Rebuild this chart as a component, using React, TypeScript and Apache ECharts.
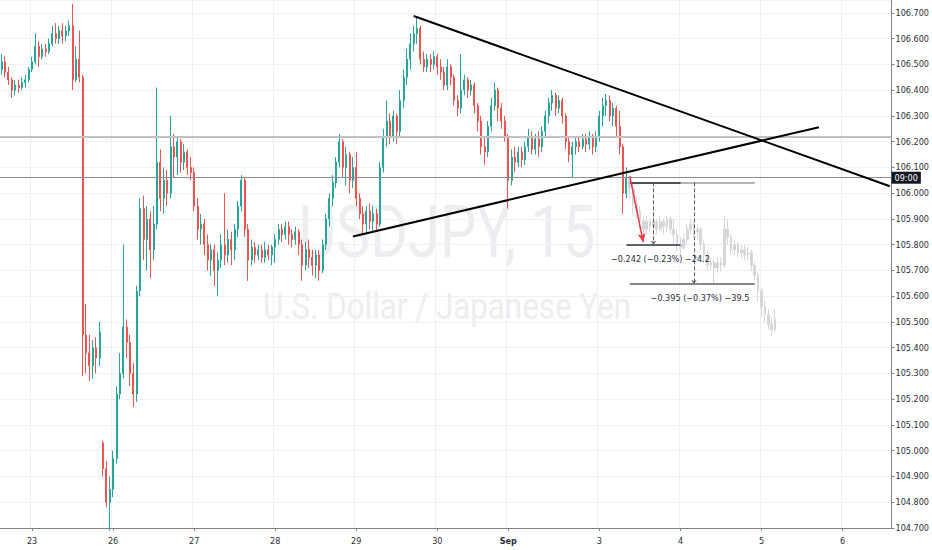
import React, { useEffect, useRef } from "react";
import * as echarts from "echarts";

// ---------- axis / layout data ----------
const SLOT_COUNT = 264; // hourly slots on the category axis
const labelIndex = [9, 33, 57, 81, 105, 129, 150, 177, 201, 225, 249];
const dayLabels = ["23", "26", "27", "28", "29", "30", "Sep", "3", "4", "5", "6"];

// ---------- OHLC data: [open, close, low, high] ----------
const aug22 = [
  [106.48, 106.51, 106.46, 106.54],
  [106.51, 106.47, 106.45, 106.53],
  [106.47, 106.44, 106.42, 106.49],
  [106.44, 106.4, 106.37, 106.45],
  [106.4, 106.42, 106.38, 106.44],
  [106.42, 106.41, 106.39, 106.44],
  [106.41, 106.43, 106.4, 106.45],
  [106.43, 106.44, 106.41, 106.46],
  [106.44, 106.48, 106.43, 106.49],
];
const aug23 = [
  [106.48, 106.51, 106.47, 106.53],
  [106.51, 106.57, 106.5, 106.62],
  [106.57, 106.53, 106.49, 106.59],
  [106.53, 106.56, 106.52, 106.58],
  [106.56, 106.55, 106.53, 106.58],
  [106.55, 106.58, 106.54, 106.6],
  [106.58, 106.62, 106.57, 106.65],
  [106.62, 106.6, 106.58, 106.66],
  [106.6, 106.63, 106.58, 106.65],
  [106.63, 106.61, 106.58, 106.66],
  [106.61, 106.63, 106.59, 106.65],
  [106.63, 106.65, 106.61, 106.67],
  [106.65, 106.44, 106.4, 106.735],
  [106.44, 106.52, 106.43, 106.57],
  [106.52, 106.45, 106.43, 106.63],
  [106.45, 105.45, 105.29, 106.46],
  [105.45, 105.38, 105.3, 105.57],
  [105.38, 105.33, 105.27, 105.45],
  [105.33, 105.4, 105.28, 105.43],
  [105.4, 105.36, 105.3, 105.44],
  [105.36, 105.46, 105.33, 105.5],
  [105.03, 104.93, 104.9, 105.04],
  [104.93, 104.8, 104.78, 104.96],
  [104.8, 104.85, 104.69, 104.9],
];
const aug26 = [
  [104.85, 104.97, 104.82, 105.0],
  [104.97, 105.22, 104.95, 105.25],
  [105.22, 105.3, 105.2, 105.38],
  [105.3, 105.48, 105.28, 105.8],
  [105.48, 105.42, 105.36, 105.51],
  [105.42, 105.3, 105.25, 105.45],
  [105.3, 105.22, 105.17, 105.34],
  [105.22, 105.62, 105.19, 105.64],
  [105.62, 105.94, 105.6, 105.98],
  [105.94, 105.82, 105.74, 105.99],
  [105.82, 105.9, 105.7, 105.95],
  [105.9, 105.78, 105.67, 105.93],
  [105.78, 105.88, 105.74, 105.95],
  [105.88, 106.12, 105.86, 106.41],
  [106.12, 105.98, 105.93, 106.17],
  [105.98, 106.05, 105.92, 106.1],
  [106.05, 106.0, 105.95, 106.09],
  [106.0, 106.18, 105.98, 106.3],
  [106.18, 106.14, 106.06, 106.23],
  [106.14, 106.2, 106.07, 106.22],
  [106.2, 106.12, 106.08, 106.21],
  [106.12, 106.16, 106.09, 106.19],
  [106.16, 106.1, 106.07, 106.17],
  [106.1, 106.08, 106.05, 106.14],
];
const aug27 = [
  [106.08, 105.95, 105.93, 106.1],
  [105.95, 105.86, 105.82, 105.98],
  [105.86, 105.88, 105.8, 105.92],
  [105.88, 105.8, 105.76, 105.9],
  [105.8, 105.74, 105.7, 105.84],
  [105.74, 105.78, 105.68, 105.8],
  [105.78, 105.7, 105.64, 105.8],
  [105.7, 105.74, 105.6, 105.77],
  [105.74, 105.8, 105.71, 105.84],
  [105.8, 105.76, 105.72, 106.0],
  [105.76, 105.82, 105.73, 105.86],
  [105.82, 105.78, 105.72, 105.85],
  [105.78, 105.86, 105.74, 105.88],
  [105.86, 105.95, 105.83, 105.97],
  [105.95, 106.05, 105.93, 106.07],
  [106.05, 105.86, 105.83, 106.06],
  [105.86, 105.74, 105.66, 105.88],
  [105.74, 105.79, 105.72, 105.82],
  [105.79, 105.76, 105.73, 105.81],
  [105.76, 105.78, 105.74, 105.8],
  [105.78, 105.75, 105.73, 105.8],
  [105.75, 105.78, 105.73, 105.81],
  [105.78, 105.76, 105.74, 105.8],
  [105.76, 105.79, 105.72, 105.8],
];
const aug28 = [
  [105.79, 105.82, 105.73, 105.84],
  [105.82, 105.86, 105.8, 105.88],
  [105.86, 105.84, 105.81, 105.88],
  [105.84, 105.87, 105.82, 105.89],
  [105.87, 105.84, 105.8, 105.89],
  [105.84, 105.82, 105.79, 105.86],
  [105.82, 105.85, 105.8, 105.87],
  [105.85, 105.8, 105.76, 105.86],
  [105.8, 105.72, 105.66, 105.82],
  [105.72, 105.78, 105.7, 105.81],
  [105.78, 105.75, 105.71, 105.82],
  [105.75, 105.72, 105.68, 105.78],
  [105.72, 105.76, 105.67, 105.78],
  [105.76, 105.7, 105.66, 105.78],
  [105.7, 105.8, 105.69, 105.82],
  [105.8, 105.9, 105.78, 105.92],
  [105.9, 105.98, 105.87, 106.0],
  [105.98, 106.04, 105.95, 106.07],
  [106.04, 106.12, 106.02, 106.14],
  [106.12, 106.2, 106.1, 106.23],
  [106.2, 106.1, 106.06, 106.21],
  [106.1, 106.15, 106.03, 106.18],
  [106.15, 106.05, 106.0, 106.16],
  [106.05, 106.1, 106.02, 106.14],
];
const aug29 = [
  [106.1, 105.98, 105.95, 106.16],
  [105.98, 105.92, 105.9, 106.0],
  [105.92, 105.88, 105.84, 105.95],
  [105.88, 105.93, 105.84, 105.95],
  [105.93, 105.89, 105.86, 105.96],
  [105.89, 105.92, 105.85, 105.95],
  [105.92, 105.88, 105.85, 105.94],
  [105.88, 106.1, 105.87, 106.12],
  [106.1, 106.22, 106.08, 106.25],
  [106.22, 106.28, 106.18, 106.36],
  [106.28, 106.22, 106.19, 106.31],
  [106.22, 106.3, 106.2, 106.32],
  [106.3, 106.24, 106.19, 106.31],
  [106.24, 106.36, 106.22, 106.4],
  [106.36, 106.45, 106.33, 106.48],
  [106.45, 106.52, 106.42, 106.56],
  [106.52, 106.58, 106.48, 106.62],
  [106.58, 106.62, 106.55, 106.65],
  [106.62, 106.64, 106.58, 106.685],
  [106.64, 106.52, 106.5, 106.65],
  [106.52, 106.49, 106.47, 106.55],
  [106.49, 106.52, 106.47, 106.54],
  [106.52, 106.5, 106.47, 106.54],
  [106.5, 106.53, 106.48, 106.55],
];
const aug30 = [
  [106.53, 106.49, 106.46, 106.54],
  [106.49, 106.47, 106.44, 106.52],
  [106.47, 106.42, 106.4, 106.49],
  [106.42, 106.49, 106.4, 106.52],
  [106.49, 106.45, 106.42, 106.5],
  [106.45, 106.36, 106.34, 106.46],
  [106.36, 106.33, 106.3, 106.38],
  [106.33, 106.4, 106.31, 106.54],
  [106.4, 106.44, 106.38, 106.46],
  [106.44, 106.4, 106.37, 106.45],
  [106.4, 106.42, 106.38, 106.44],
  [106.42, 106.34, 106.31, 106.43],
  [106.34, 106.28, 106.24, 106.35],
  [106.28, 106.18, 106.15, 106.3],
  [106.18, 106.16, 106.11, 106.22],
  [106.16, 106.26, 106.14, 106.28],
  [106.26, 106.34, 106.24, 106.37],
  [106.34, 106.4, 106.32, 106.43],
  [106.4, 106.33, 106.28, 106.41],
  [106.33, 106.28, 106.25, 106.35],
  [106.28, 106.22, 106.2, 106.3],
];
const sep02 = [
  [106.22, 106.05, 105.94, 106.23],
  [106.05, 106.14, 106.03, 106.17],
  [106.14, 106.12, 106.08, 106.18],
  [106.12, 106.16, 106.1, 106.18],
  [106.16, 106.13, 106.1, 106.18],
  [106.13, 106.18, 106.11, 106.2],
  [106.18, 106.22, 106.16, 106.25],
  [106.22, 106.17, 106.15, 106.24],
  [106.17, 106.21, 106.15, 106.23],
  [106.21, 106.18, 106.14, 106.24],
  [106.18, 106.24, 106.16, 106.26],
  [106.24, 106.3, 106.22, 106.32],
  [106.3, 106.35, 106.27, 106.37],
  [106.35, 106.38, 106.32, 106.4],
  [106.38, 106.33, 106.3, 106.39],
  [106.33, 106.36, 106.31, 106.38],
  [106.36, 106.3, 106.27, 106.37],
  [106.3, 106.2, 106.17, 106.31],
  [106.2, 106.15, 106.12, 106.22],
  [106.15, 106.18, 106.06, 106.2],
  [106.18, 106.2, 106.15, 106.22],
  [106.2, 106.18, 106.16, 106.22],
  [106.18, 106.21, 106.17, 106.23],
  [106.21, 106.19, 106.16, 106.23],
  [106.19, 106.22, 106.17, 106.24],
  [106.22, 106.18, 106.15, 106.23],
  [106.18, 106.22, 106.16, 106.24],
];
const sep03 = [
  [106.22, 106.3, 106.2, 106.32],
  [106.3, 106.34, 106.26, 106.37],
  [106.34, 106.36, 106.3, 106.385],
  [106.36, 106.3, 106.28, 106.38],
  [106.3, 106.33, 106.26, 106.35],
  [106.33, 106.26, 106.22, 106.34],
  [106.26, 106.18, 106.15, 106.32],
  [106.18, 106.0, 105.92, 106.19],
  [106.0, 106.06, 105.98, 106.1],
];
// grey projected bars (ghost feed)
const projection = [
  [106.06, 106.02, 105.98, 106.07],
  [106.02, 105.96, 105.92, 106.04],
  [105.96, 105.93, 105.9, 105.99],
  [105.93, 105.89, 105.86, 105.95],
  [105.89, 105.86, 105.84, 105.91],
  [105.86, 105.89, 105.84, 105.91],
  [105.89, 105.87, 105.85, 105.9],
  [105.87, 105.89, 105.85, 105.91],
  [105.89, 105.86, 105.84, 105.9],
  [105.86, 105.89, 105.85, 105.91],
  [105.89, 105.87, 105.84, 105.9],
  [105.87, 105.9, 105.85, 105.91],
  [105.9, 105.86, 105.84, 105.91],
  [105.86, 105.84, 105.8, 105.9],
  [105.84, 105.8, 105.77, 105.86],
  [105.8, 105.79, 105.76, 105.83],
  [105.79, 105.82, 105.78, 105.84],
  [105.82, 105.86, 105.8, 105.88],
  [105.86, 105.88, 105.84, 105.9],
  [105.88, 105.85, 105.83, 105.89],
  [105.85, 105.86, 105.82, 105.88],
  [105.86, 105.8, 105.78, 105.87],
  [105.8, 105.76, 105.73, 105.82],
  [105.76, 105.72, 105.7, 105.78],
  [105.72, 105.73, 105.7, 105.75],
  [105.73, 105.71, 105.65, 105.74],
  [105.71, 105.73, 105.69, 105.75],
  [105.73, 105.72, 105.7, 105.75],
  [105.72, 105.86, 105.71, 105.91],
  [105.86, 105.83, 105.8, 105.9],
  [105.83, 105.78, 105.76, 105.84],
  [105.78, 105.8, 105.76, 105.82],
  [105.8, 105.77, 105.75, 105.81],
  [105.77, 105.78, 105.75, 105.8],
  [105.78, 105.76, 105.74, 105.8],
  [105.76, 105.77, 105.74, 105.79],
  [105.77, 105.72, 105.7, 105.78],
  [105.72, 105.68, 105.66, 105.73],
  [105.68, 105.62, 105.58, 105.69],
  [105.62, 105.56, 105.52, 105.63],
  [105.56, 105.53, 105.5, 105.58],
  [105.53, 105.49, 105.47, 105.55],
  [105.49, 105.47, 105.445, 105.52],
  [105.47, 105.51, 105.46, 105.55],
];

// ---------- drawing annotations (data coordinates: [slot index, price]) ----------
const trendDown = [[122.4, 106.688], [263.2, 106.027]];
const trendUp = [[104.1, 105.832], [242.0, 106.256]];
const levelLight = 106.2175;
const levelDark = 106.058;
const countdownText = "09:00";
const redArrow = [[185.7, 106.066], [190.1, 105.809]];
const rangeTop = 106.042;
const range1 = { x0: 185.4, x1: 200.7, xm: 193.1, low: 105.8, text: "\u22120.242 (\u22120.23%) \u221224.2" };
const range2 = { x0: 186.0, x1: 223.1, xm: 204.6, low: 105.647, text: "\u22120.395 (\u22120.37%) \u221239.5" };

const AXIS_FONT = "'Liberation Sans Narrow', 'DejaVu Sans Condensed', 'Roboto Condensed', Roboto, sans-serif";

export default function App() {
  const ref = useRef<HTMLDivElement>(null);

  useEffect(() => {
    if (!ref.current) return;
    const chart = echarts.init(ref.current, undefined, { renderer: "svg" });

    const colored = [...aug22, ...aug23, ...aug26, ...aug27, ...aug28, ...aug29, ...aug30, ...sep02, ...sep03];
    const coloredRows = colored.map((d, i) => [i, ...d]);
    const greyRows = projection.map((d, i) => [colored.length + i, ...d]);
    const categories = Array.from({ length: SLOT_COUNT }, (_, i) => String(i));
    const labelMap: Record<string, string> = {};
    labelIndex.forEach((idx, k) => (labelMap[String(idx)] = dayLabels[k]));
    const isLabel = (index: number) => labelIndex.indexOf(index) >= 0;

    const solid = (color: string, width = 1, type = "solid") => ({ color, width, type });

    const option: any = {
      animation: false,
      backgroundColor: "#ffffff",
      textStyle: { fontFamily: AXIS_FONT },
      grid: { left: 0, right: 36, top: 0, bottom: 22, containLabel: false },
      graphic: [
        {
          type: "text",
          x: 447,
          y: 233,
          z: -1,
          silent: true,
          scaleX: 0.8,
          style: {
            text: "USDJPY, 15",
            fill: "#ecedf1",
            fontSize: 72,
            fontFamily: "Roboto",
            align: "center",
            verticalAlign: "middle",
          },
        },
        {
          type: "text",
          x: 447,
          y: 307,
          z: -1,
          silent: true,
          scaleX: 0.87,
          style: {
            text: "U.S. Dollar / Japanese Yen",
            fill: "#ecedf1",
            fontSize: 36,
            fontFamily: "Roboto",
            align: "center",
            verticalAlign: "middle",
          },
        },
      ],
      xAxis: {
        type: "category",
        data: categories,
        boundaryGap: true,
        axisLine: { lineStyle: { color: "#7f828b", width: 1 } },
        axisTick: { show: true, interval: isLabel, alignWithLabel: true, length: 3, lineStyle: { color: "#7f828b" } },
        axisLabel: {
          interval: isLabel,
          formatter: (v: string) => {
            const t = labelMap[v] || "";
            return t === "Sep" ? "{b|Sep}" : t;
          },
          color: "#2a2e39",
          fontSize: 9,
          margin: 8,
          rich: { b: { fontWeight: "bold", fontSize: 9, color: "#2a2e39", fontFamily: AXIS_FONT } },
        },
        splitLine: { show: true, interval: isLabel, lineStyle: { color: "#eef0f5", width: 1 } },
      },
      yAxis: {
        type: "value",
        position: "right",
        min: 104.7,
        max: 106.75,
        interval: 0.1,
        axisLine: { show: true, lineStyle: { color: "#7f828b", width: 1 } },
        axisTick: { show: true, length: 3, lineStyle: { color: "#7f828b" } },
        axisLabel: {
          color: "#2a2e39",
          fontSize: 9,
          margin: 4,
          showMaxLabel: false,
          formatter: (v: number) => (Math.abs(v * 10 - Math.round(v * 10)) < 1e-6 ? v.toFixed(3) : ""),
        },
        splitLine: { show: true, lineStyle: { color: "#eef0f5", width: 1 } },
      },
      series: [
        {
          type: "candlestick",
          name: "ghost",
          data: greyRows,
          encode: { x: 0, y: [1, 2, 3, 4] },
          barWidth: 2.2,
          clip: false,
          itemStyle: { color: "#d5d6da", color0: "#d5d6da", borderColor: "#d5d6da", borderColor0: "#d5d6da", borderWidth: 1 },
          silent: true,
        },
        {
          type: "candlestick",
          name: "USDJPY",
          data: coloredRows,
          encode: { x: 0, y: [1, 2, 3, 4] },
          barWidth: 1.5,
          clip: false,
          itemStyle: { color: "#26a69a", color0: "#ef5350", borderColor: "#26a69a", borderColor0: "#ef5350", borderWidth: 1 },
          silent: true,
          markLine: {
            silent: true,
            animation: false,
            symbol: ["none", "none"],
            label: { show: false },
            lineStyle: { type: "solid" },
            emphasis: { disabled: true },
            data: [
              { yAxis: levelLight, lineStyle: solid("#bfc1c7", 2) },
              {
                yAxis: levelDark,
                lineStyle: solid("#8c8f97", 1),
                label: {
                  show: true,
                  position: "end",
                  distance: 0,
                  formatter: countdownText,
                  color: "#ffffff",
                  backgroundColor: "#131722",
                  padding: [2, 3, 1, 3],
                  fontSize: 9,
                  fontFamily: AXIS_FONT,
                },
              },
              [{ coord: trendDown[0], lineStyle: solid("#000000", 2) }, { coord: trendDown[1] }],
              [{ coord: trendUp[0], lineStyle: solid("#000000", 2) }, { coord: trendUp[1] }],
              // range tool 2 (behind)
              [{ coord: [range2.x0, rangeTop], lineStyle: solid("#9a9ca3", 1.5) }, { coord: [range2.x1, rangeTop] }],
              [{ coord: [range2.x0, range2.low], lineStyle: solid("#5d606b", 1.5) }, { coord: [range2.x1, range2.low] }],
              [
                {
                  coord: [range2.xm, rangeTop],
                  lineStyle: solid("#5d606b", 1, "dashed"),
                  label: {
                    show: true,
                    position: "end",
                    distance: 9,
                    formatter: range2.text,
                    color: "#2a2e39",
                    fontSize: 9,
                    padding: [0, 0, 0, 12],
                    fontFamily: AXIS_FONT,
                  },
                },
                { coord: [range2.xm, range2.low], symbol: "arrow", symbolSize: 4 },
              ],
              // range tool 1
              [{ coord: [range1.x0 + 0.6, rangeTop], lineStyle: solid("#2f3139", 1.5) }, { coord: [range1.x1, rangeTop] }],
              [{ coord: [range1.x0, range1.low], lineStyle: solid("#2f3139", 1.5) }, { coord: [range1.x1, range1.low] }],
              [
                {
                  coord: [range1.xm, rangeTop],
                  lineStyle: solid("#5d606b", 1, "dashed"),
                  label: {
                    show: true,
                    position: "end",
                    distance: 10,
                    formatter: range1.text,
                    color: "#2a2e39",
                    fontSize: 9,
                    padding: [0, 0, 0, 14],
                    fontFamily: AXIS_FONT,
                  },
                },
                { coord: [range1.xm, range1.low], symbol: "arrow", symbolSize: 4 },
              ],
              // red arrow
              [
                { coord: redArrow[0], lineStyle: solid("#f23645", 1.5) },
                { coord: redArrow[1], symbol: "arrow", symbolSize: [6, 9] },
              ],
            ],
          },
        },
      ],
    };

    chart.setOption(option);
    return () => chart.dispose();
  }, []);

  return (
    <div
      ref={ref}
      style={{ position: "fixed", left: 0, top: 0, width: 932, height: 550, background: "#ffffff" }}
    />
  );
}
